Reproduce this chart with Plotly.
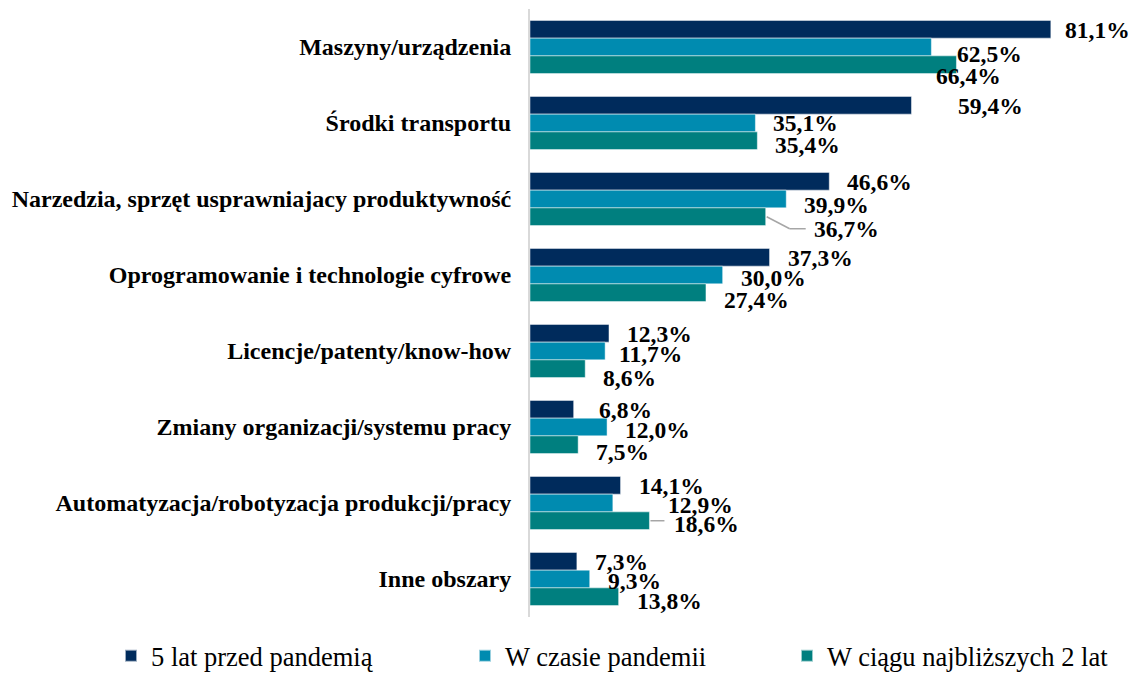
import plotly.graph_objects as go

categories = [
    "Maszyny/urządzenia",
    "Środki transportu",
    "Narzedzia, sprzęt usprawniajacy produktywność",
    "Oprogramowanie i technologie cyfrowe",
    "Licencje/patenty/know-how",
    "Zmiany organizacji/systemu pracy",
    "Automatyzacja/robotyzacja produkcji/pracy",
    "Inne obszary",
]
series_names = ["5 lat przed pandemią", "W czasie pandemii", "W ciągu najbliższych 2 lat"]
before_pandemic = [81.1, 59.4, 46.6, 37.3, 12.3, 6.8, 14.1, 7.3]
during_pandemic = [62.5, 35.1, 39.9, 30.0, 11.7, 12.0, 12.9, 9.3]
next_two_years = [66.4, 35.4, 36.7, 27.4, 8.6, 7.5, 18.6, 13.8]

series_values = [before_pandemic, during_pandemic, next_two_years]
colors = ["#002b5c", "#008bb0", "#007f7f"]

# style: label placement (pixels)
default_gap = 16
series_dy = [1, 3, 7]
gap_nudge = {(0, 0): 12, (0, 1): 24, (0, 2): -22, (1, 0): 45, (2, 2): 46,
             (6, 1): 53, (4, 1): 12, (5, 0): 23, (6, 2): 23}
dy_nudge = {(0, 1): 7, (0, 2): 11, (6, 1): 2, (6, 2): 3, (7, 1): 2, (7, 2): 4,
            (1, 1): 0, (1, 2): 4, (2, 1): 6, (2, 2): 12, (4, 2): 9}
leader_lines = [(2, 2), (6, 2)]
legend_x_px = [111, 465, 787]

n = len(categories)
ypos = list(range(n))
group_w = 0.7
bar_h = group_w / 3
W, H = 1135, 673
font_fam = "Liberation Serif, Times New Roman, serif"

fig = go.Figure()
legend_ids = ["legend", "legend2", "legend3"]
for j, (name, vals) in enumerate(zip(series_names, series_values)):
    fig.add_trace(go.Bar(
        y=ypos, x=vals, name=name, orientation="h",
        marker=dict(color=colors[j], line=dict(color="rgba(255,255,255,0.6)", width=0.8)),
        hoverinfo="x+name", legend=legend_ids[j],
    ))

annotations = []
shapes = []
for j, vals in enumerate(series_values):
    for i, v in enumerate(vals):
        yc = i + (j - 1) * bar_h
        gap = gap_nudge.get((i, j), default_gap)
        dy = dy_nudge.get((i, j), series_dy[j])
        annotations.append(dict(
            x=v, y=yc, xref="x", yref="y", text=f"{v:.1f}%".replace(".", ","),
            showarrow=False, xanchor="left", yanchor="middle",
            xshift=gap, yshift=-dy,
            font=dict(family=font_fam, size=23.5, color="black", weight="bold"),
        ))

for (i, j) in leader_lines:
    v = series_values[j][i]
    yc = i + (j - 1) * bar_h
    gap = gap_nudge.get((i, j), default_gap)
    dy = dy_nudge.get((i, j), series_dy[j])
    if dy > 6:
        shapes.append(dict(type="line", xref="x", yref="y", xsizemode="pixel", ysizemode="pixel",
                           xanchor=v, yanchor=yc, x0=1, x1=24, y0=0, y1=-dy,
                           line=dict(color="#a6a6a6", width=1.5)))
        shapes.append(dict(type="line", xref="x", yref="y", xsizemode="pixel", ysizemode="pixel",
                           xanchor=v, yanchor=yc, x0=24, x1=gap - 6, y0=-dy, y1=-dy,
                           line=dict(color="#a6a6a6", width=1.5)))
    else:
        shapes.append(dict(type="line", xref="x", yref="y", xsizemode="pixel", ysizemode="pixel",
                           xanchor=v, yanchor=yc, x0=1, x1=gap - 8, y0=0, y1=0,
                           line=dict(color="#a6a6a6", width=1.5)))

legend_style = dict(orientation="h", xref="container", yref="container",
                    xanchor="left", y=(H - 656) / H, yanchor="middle",
                    font=dict(family=font_fam, size=26.5, color="black"),
                    bgcolor="rgba(0,0,0,0)", itemsizing="constant")

fig.update_layout(
    width=W, height=H,
    margin=dict(l=530, r=27, t=9, b=56),
    paper_bgcolor="white", plot_bgcolor="white",
    barmode="group", bargap=0.3, bargroupgap=0,
    showlegend=True,
    legend=dict(legend_style, x=legend_x_px[0] / W),
    legend2=dict(legend_style, x=legend_x_px[1] / W),
    legend3=dict(legend_style, x=legend_x_px[2] / W),
    annotations=annotations,
    shapes=shapes,
    font=dict(family=font_fam, color="black"),
)
fig.update_xaxes(range=[0, 90], visible=False, showgrid=False, zeroline=False)
fig.update_yaxes(
    tickmode="array", tickvals=ypos, ticktext=categories,
    range=[n - 0.5, -0.5], showgrid=False, zeroline=False,
    showline=True, linecolor="#d9d9d9", linewidth=2,
    ticks="", ticklabelstandoff=12,
    tickfont=dict(family=font_fam, size=24, color="black", weight="bold"),
)

fig.write_html("out.html", config={"displayModeBar": False},
               post_script="document.body.style.margin='0';")
